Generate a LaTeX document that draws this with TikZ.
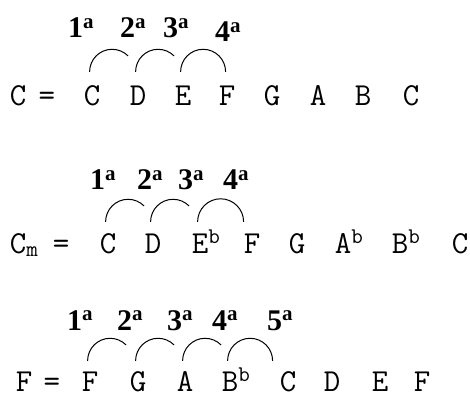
\documentclass[tikz,border=0pt]{standalone}
\usepackage{fontspec}
\newfontfamily\degfont{Liberation Serif}
\usepackage{tikz}
\usetikzlibrary{
    positioning
}

\begin{document}
\begin{tikzpicture}[
    x=1pt,
    y=1pt,
    note/.style={
        font=\fontsize{32}{36}\selectfont\ttfamily,
        anchor=base west,
        inner sep=0pt,
        text height=20pt,
        text depth=0pt
    },
    degree/.style={
        font=\fontsize{30}{34}\selectfont\degfont\bfseries,
        anchor=base west,
        inner sep=0pt
    },
    tie/.style={line width=1pt}
]

\useasboundingbox (0,0) rectangle (470,399);

\node[note] (scale1) at (9.6,293) {C\kern-4pt\ =};
\node[note] (r1c) at (83.6,293) {C};
\node[note] (r1d) at (129.6,293) {D};
\node[note] (r1e) at (174.6,293) {E};
\node[note] (r1f) at (218.6,293) {F};
\node[note] (r1g) at (263.6,293) {G};
\node[note] (r1a) at (309.6,293) {A};
\node[note] (r1b) at (354.6,293) {B};
\node[note] (r1cc) at (402.6,293) {C};

\node[degree] (deg11) at (68,361) {1\textsuperscript{a}};
\node[degree] (deg12) at (120,361) {2\textsuperscript{a}};
\node[degree] (deg13) at (163,361) {3\textsuperscript{a}};
\node[degree] (deg14) at (215,357) {4\textsuperscript{a}};

\draw[tie] ([shift={(6,14)}]r1c.north west) arc[start angle=180, end angle=45, radius=22.5];
\draw[tie] ([shift={(6,14)}]r1d.north west) arc[start angle=180, end angle=45, radius=22.5];
\draw[tie] ([shift={(6,14)}]r1e.north west) arc[start angle=180, end angle=0, radius=22.5];

\node[note] (scale2) at (9.6,146) {C\textsubscript{m}\kern-2pt\ =};
\node[note] (r2c) at (99.6,146) {C};
\node[note] (r2d) at (144.6,146) {D};
\node[note] (r2e) at (191.6,146) {E\textsuperscript{b}};
\node[note] (r2f) at (243.6,146) {F};
\node[note] (r2g) at (288.6,146) {G};
\node[note] (r2a) at (334.6,146) {A\textsuperscript{b}};
\node[note] (r2b) at (391.6,146) {B\textsuperscript{b}};
\node[note] (r2cc) at (451.6,146) {C};

\node[degree] (deg21) at (90,209) {1\textsuperscript{a}};
\node[degree] (deg22) at (137,209) {2\textsuperscript{a}};
\node[degree] (deg23) at (178,209) {3\textsuperscript{a}};
\node[degree] (deg24) at (223,209) {4\textsuperscript{a}};

\draw[tie] ([shift={(6,11)}]r2c.north west) arc[start angle=180, end angle=45, radius=22.5];
\draw[tie] ([shift={(6,11)}]r2d.north west) arc[start angle=180, end angle=45, radius=22.5];
\draw[tie] ([shift={(6,11)}]r2e.north west) arc[start angle=180, end angle=0, radius=23];

\node[note] (scale3) at (15.6,8) {F\kern-5pt\ =};
\node[note] (r3f) at (81.6,8) {F};
\node[note] (r3g) at (129.6,8) {G};
\node[note] (r3a) at (176.6,8) {A};
\node[note] (r3b) at (221.6,8) {B\textsuperscript{b}};
\node[note] (r3c) at (279.6,8) {C};
\node[note] (r3d) at (323.6,8) {D};
\node[note] (r3e) at (371.6,8) {E};
\node[note] (r3ff) at (413.6,8) {F};

\node[degree] (deg31) at (67,69) {1\textsuperscript{a}};
\node[degree] (deg32) at (117,69) {2\textsuperscript{a}};
\node[degree] (deg33) at (167,69) {3\textsuperscript{a}};
\node[degree] (deg34) at (212,69) {4\textsuperscript{a}};
\node[degree] (deg35) at (267,69) {5\textsuperscript{a}};

\draw[tie] ([shift={(6,10)}]r3f.north west) arc[start angle=180, end angle=45, radius=22.5];
\draw[tie] ([shift={(6,10)}]r3g.north west) arc[start angle=180, end angle=45, radius=22.5];
\draw[tie] ([shift={(6,10)}]r3a.north west) arc[start angle=180, end angle=45, radius=22.5];
\draw[tie] ([shift={(6,10)}]r3b.north west) arc[start angle=180, end angle=0, radius=22.5];

\end{tikzpicture}
\end{document}
